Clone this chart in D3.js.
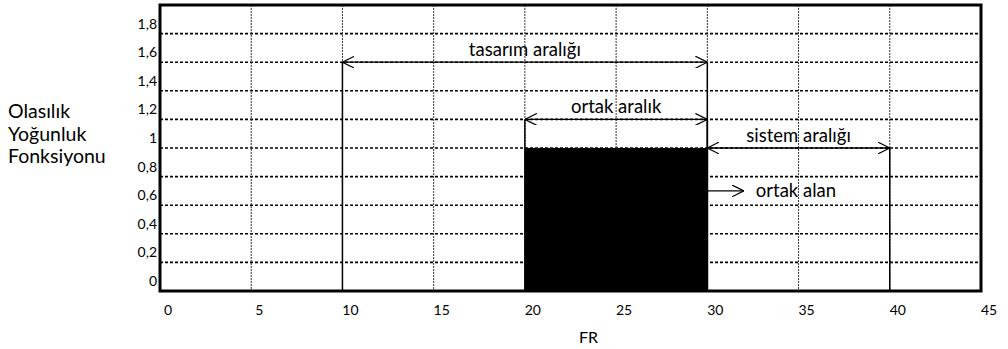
<!DOCTYPE html>
<html>
<head>
<meta charset="utf-8">
<script src="https://cdn.jsdelivr.net/npm/d3@7"></script>
<style>
  body { margin: 0; background: #fff; }
  svg { display: block; font-family: Lato, "Open Sans", sans-serif; }
</style>
</head>
<body>
<div id="chart"></div>
<script>
// axis ticks
const xTicks = [0, 5, 10, 15, 20, 25, 30, 35, 40, 45]
const yTicks = [0, 0.2, 0.4, 0.6, 0.8, 1, 1.2, 1.4, 1.6, 1.8]
const yTickLabels = ["0", "0,2", "0,4", "0,6", "0,8", "1", "1,2", "1,4", "1,6", "1,8"]

// ranges (double arrows)
const rangeNames = ["tasarım aralığı", "ortak aralık", "sistem aralığı"]
const rangeStart = [10, 20, 30]
const rangeEnd = [30, 30, 40]
const rangeLevel = [1.6, 1.2, 1.0]

// common area
const commonStart = 20
const commonEnd = 30
const commonDensity = 1.0
const commonLabel = "ortak alan"
const commonArrow = [30, 32, 0.7]

const yTitle = ["Olasılık", "Yoğunluk", "Fonksiyonu"]
const xTitle = "FR"

const width = 1008, height = 349
const plotL = 160, plotR = 981, plotT = 5, plotB = 291

const svg = d3.select("#chart").append("svg")
  .attr("width", width)
  .attr("height", height)

const x = d3.scaleLinear().domain([0, 45]).range([plotL, plotR])
const y = d3.scaleLinear().domain([0, 2]).range([plotB, plotT])

// grid
const grid = svg.append("g").classed("grid", true)
grid.selectAll("line.h")
  .data(yTicks.filter(d => d > 0))
  .join("line").classed("h", true)
  .attr("x1", plotL).attr("x2", plotR)
  .attr("y1", d => y(d)).attr("y2", d => y(d))
  .attr("stroke", "#000").attr("stroke-width", 1.6)
  .attr("stroke-dasharray", "3,2")
grid.selectAll("line.v")
  .data(xTicks.filter(d => d > 0 && d < 45))
  .join("line").classed("v", true)
  .attr("x1", d => x(d)).attr("x2", d => x(d))
  .attr("y1", plotT).attr("y2", plotB)
  .attr("stroke", "#333").attr("stroke-width", 1)
  .attr("stroke-dasharray", "2,1")

// common area
svg.append("rect")
  .attr("x", x(commonStart))
  .attr("y", y(commonDensity))
  .attr("width", x(commonEnd) - x(commonStart))
  .attr("height", y(0) - y(commonDensity))
  .attr("fill", "#000")

// arrow heads
const defs = svg.append("defs")
defs.append("marker").attr("id", "head")
  .attr("viewBox", "0 0 12 12").attr("refX", 12).attr("refY", 6)
  .attr("markerWidth", 12).attr("markerHeight", 12)
  .attr("markerUnits", "userSpaceOnUse")
  .attr("orient", "auto-start-reverse")
  .append("path").attr("d", "M0,0 L12,6 L0,12")
  .attr("fill", "none").attr("stroke", "#000").attr("stroke-width", 1.2)

const ranges = rangeNames.map((n, i) => ({
  name: n, a: rangeStart[i], b: rangeEnd[i], v: rangeLevel[i]
}))

const rg = svg.append("g").classed("ranges", true)
rg.selectAll("line.left")
  .data(ranges).join("line").classed("left", true)
  .attr("x1", d => x(d.a)).attr("x2", d => x(d.a))
  .attr("y1", y(0)).attr("y2", d => y(d.v))
  .attr("stroke", "#000").attr("stroke-width", 1.5)
rg.selectAll("line.right")
  .data(ranges).join("line").classed("right", true)
  .attr("x1", d => x(d.b)).attr("x2", d => x(d.b))
  .attr("y1", y(0)).attr("y2", d => y(d.v))
  .attr("stroke", "#000").attr("stroke-width", 1.5)
rg.selectAll("line.arrow")
  .data(ranges).join("line").classed("arrow", true)
  .attr("x1", d => x(d.a)).attr("x2", d => x(d.b))
  .attr("y1", d => y(d.v)).attr("y2", d => y(d.v))
  .attr("stroke", "#000").attr("stroke-width", 1.3)
  .attr("marker-start", "url(#head)").attr("marker-end", "url(#head)")
rg.selectAll("text")
  .data(ranges).join("text")
  .attr("x", d => x((d.a + d.b) / 2))
  .attr("y", d => y(d.v) - 6)
  .attr("text-anchor", "middle")
  .attr("font-size", 18.5)
  .text(d => d.name)

svg.append("line")
  .attr("x1", x(commonArrow[0])).attr("x2", x(commonArrow[1]))
  .attr("y1", y(commonArrow[2])).attr("y2", y(commonArrow[2]))
  .attr("stroke", "#000").attr("stroke-width", 1.3)
  .attr("marker-end", "url(#head)")
svg.append("text")
  .attr("x", x(commonArrow[1]) + 12)
  .attr("y", y(commonArrow[2]) + 6)
  .attr("font-size", 18.5)
  .text(commonLabel)

// frame
svg.append("rect")
  .attr("x", plotL).attr("y", plotT)
  .attr("width", plotR - plotL).attr("height", plotB - plotT)
  .attr("fill", "none").attr("stroke", "#000").attr("stroke-width", 3)

// tick labels
svg.append("g").selectAll("text")
  .data(xTicks).join("text")
  .attr("x", d => x(d) + 8)
  .attr("y", 315)
  .attr("text-anchor", "middle")
  .attr("font-size", 14)
  .text(d => d)
svg.append("g").selectAll("text")
  .data(yTicks).join("text")
  .attr("x", 157)
  .attr("y", d => y(d) - 5)
  .attr("text-anchor", "end")
  .attr("font-size", 14)
  .text((d, i) => yTickLabels[i])

// titles
svg.append("text")
  .attr("x", x(22.5) + 18).attr("y", 343)
  .attr("text-anchor", "middle")
  .attr("font-size", 16)
  .text(xTitle)
svg.append("g").selectAll("text")
  .data(yTitle).join("text")
  .attr("x", 8)
  .attr("y", (d, i) => 118 + i * 22.5)
  .attr("font-size", 19.5)
  .text(d => d)
</script>
</body>
</html>
